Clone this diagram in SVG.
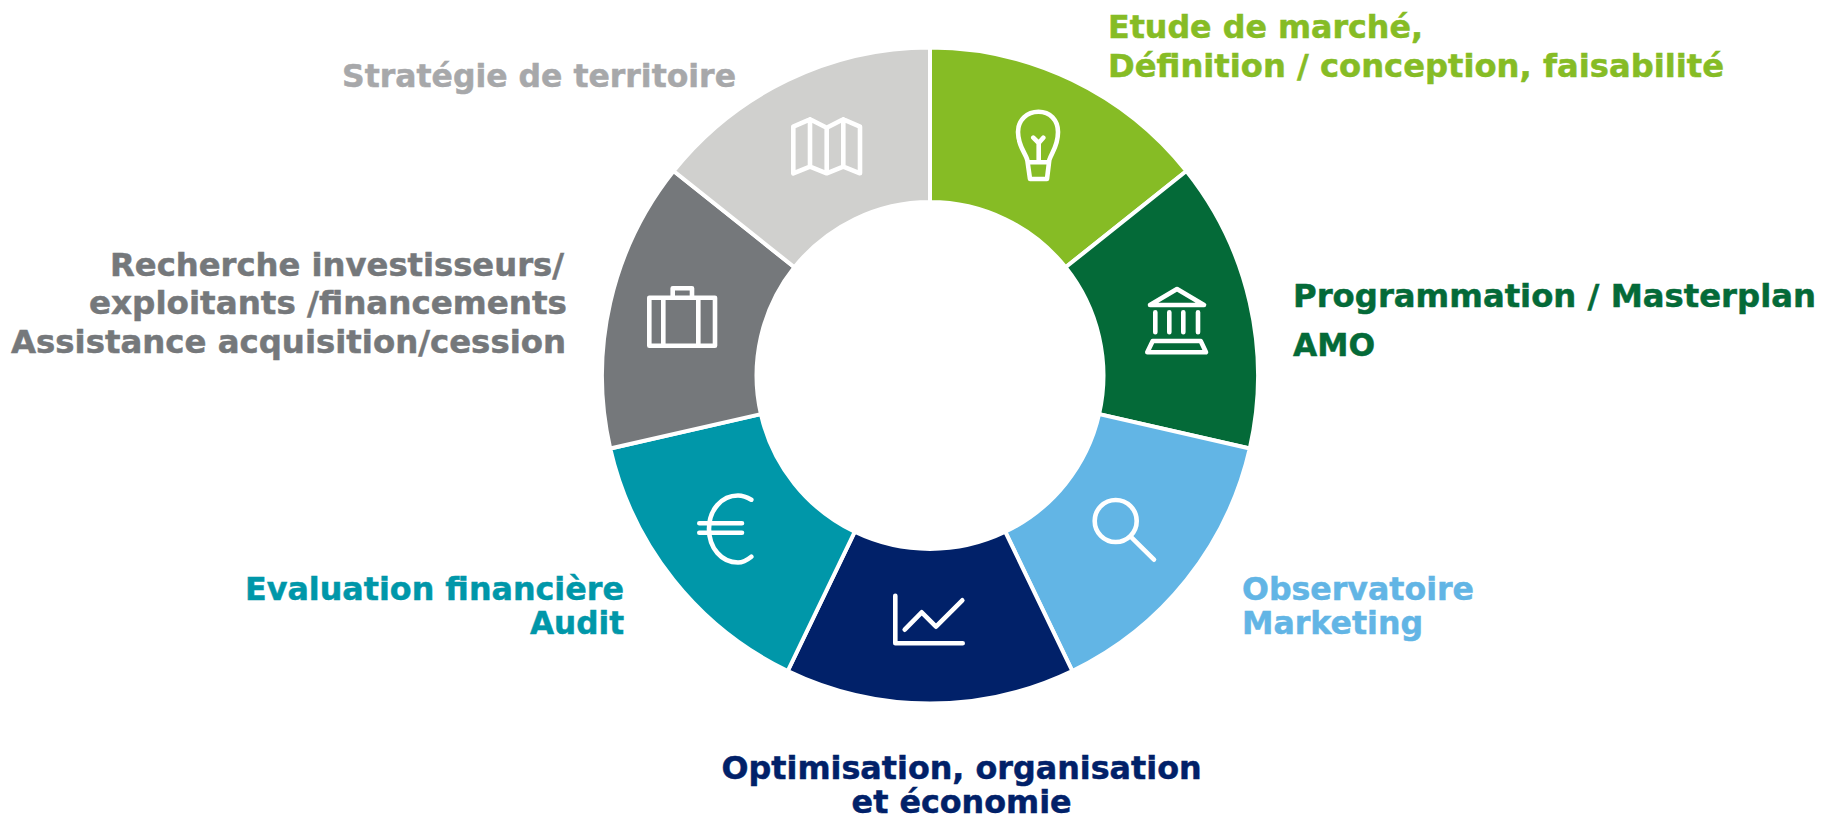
<svg xmlns="http://www.w3.org/2000/svg" width="1821" height="816" viewBox="0 0 1821 816">
<style>
.seg{stroke:#fff;stroke-width:4;stroke-linejoin:miter}
.ico{fill:none;stroke:#fff;stroke-width:4.6;stroke-linecap:round;stroke-linejoin:round}
text{font-family:"DejaVu Sans",Verdana,sans-serif;font-weight:700;font-size:32px;stroke-width:.5}
.e{text-anchor:end}.m{text-anchor:middle}
</style>
<rect width="1821" height="816" fill="#fff"/>
<g id="etude">
<path class="seg" fill="#86BC25" d="M930 47.5A328 328 0 0 1 1186.4 171L1065.6 267.3A173.5 173.5 0 0 0 930 202Z"/>
<path class="ico" transform="translate(990 100)" d="M37.3 60C35 52 28 46 28 32C28 20 37 11.7 48.5 11.7C60 11.7 68 20 68 32C68 46 62 52 59.3 60L57 79H40ZM38 62.3H59M48.7 62V42M43.3 37.7L48.7 43L53.3 37.7"/>
<text x="1108" y="38" fill="#86BC25" stroke="#86BC25" textLength="315" lengthAdjust="spacingAndGlyphs">Etude de marché,</text>
<text x="1108" y="77" fill="#86BC25" stroke="#86BC25" textLength="616" lengthAdjust="spacingAndGlyphs">Définition / conception, faisabilité</text>
</g>
<g id="programmation">
<path class="seg" fill="#046A38" d="M1186.4 171A328 328 0 0 1 1249.8 448.5L1099.1 414.1A173.5 173.5 0 0 0 1065.6 267.3Z"/>
<path class="ico" transform="translate(1130 275)" d="M47 14L74 30H20ZM25.3 37.3V57.3M39.3 37.3V57.3M53.3 37.3V57.3M68 37.3V57.3M22.7 66H70.7L76 77.3H17.3Z"/>
<text x="1293" y="307" fill="#046A38" stroke="#046A38" textLength="523" lengthAdjust="spacingAndGlyphs">Programmation / Masterplan</text>
<text x="1293" y="356" fill="#046A38" stroke="#046A38" textLength="82" lengthAdjust="spacingAndGlyphs">AMO</text>
</g>
<g id="observatoire">
<path class="seg" fill="#62B5E5" d="M1249.8 448.5A328 328 0 0 1 1072.3 671L1005.3 531.8A173.5 173.5 0 0 0 1099.1 414.1Z"/>
<g class="ico" transform="translate(1080 485)"><circle cx="35.7" cy="36" r="21"/><path d="M51.7 52.7L74 74.7"/></g>
<text x="1242" y="600" fill="#62B5E5" stroke="#62B5E5" textLength="232" lengthAdjust="spacingAndGlyphs">Observatoire</text>
<text x="1242" y="634" fill="#62B5E5" stroke="#62B5E5" textLength="181" lengthAdjust="spacingAndGlyphs">Marketing</text>
</g>
<g id="optimisation">
<path class="seg" fill="#012169" d="M1072.3 671A328 328 0 0 1 787.7 671L854.7 531.8A173.5 173.5 0 0 0 1005.3 531.8Z"/>
<path class="ico" transform="translate(880 585)" d="M15.3 10.7V58.3H82.7M24.7 44.7L41.7 27.3L56 41.7L82.3 15.3"/>
<text class="m" x="961.6" y="779" fill="#012169" stroke="#012169" textLength="480" lengthAdjust="spacingAndGlyphs">Optimisation, organisation</text>
<text class="m" x="961.6" y="813" fill="#012169" stroke="#012169" textLength="220" lengthAdjust="spacingAndGlyphs">et économie</text>
</g>
<g id="evaluation">
<path class="seg" fill="#0097A9" d="M787.7 671A328 328 0 0 1 610.2 448.5L760.9 414.1A173.5 173.5 0 0 0 854.7 531.8Z"/>
<path class="ico" transform="translate(680 485)" d="M71.3 14.7C66 11.5 62 10.5 58 10.5C41.5 10.5 29 25 29 44C29 63 41.5 77.5 58 77.5C62 77.5 66 76 71.3 71.7M19.3 38.3H62M19.3 47.7H62"/>
<text class="e" x="624" y="600" fill="#0097A9" stroke="#0097A9" textLength="379" lengthAdjust="spacingAndGlyphs">Evaluation financière</text>
<text class="e" x="624" y="634" fill="#0097A9" stroke="#0097A9" textLength="94" lengthAdjust="spacingAndGlyphs">Audit</text>
</g>
<g id="recherche">
<path class="seg" fill="#75787B" d="M610.2 448.5A328 328 0 0 1 673.6 171L794.4 267.3A173.5 173.5 0 0 0 760.9 414.1Z"/>
<path class="ico" transform="translate(630 275)" d="M19.3 22.7H85V70.7H19.3ZM33.3 22.7V70.7M68.3 22.7V70.7M42.7 21.7V13.3H62V21.7"/>
<text class="e" x="564" y="276" fill="#75787B" stroke="#75787B" textLength="454" lengthAdjust="spacingAndGlyphs">Recherche investisseurs/</text>
<text class="e" x="567" y="314" fill="#75787B" stroke="#75787B" textLength="478" lengthAdjust="spacingAndGlyphs">exploitants /financements</text>
<text class="e" x="566" y="353" fill="#75787B" stroke="#75787B" textLength="555" lengthAdjust="spacingAndGlyphs">Assistance acquisition/cession</text>
</g>
<g id="strategie">
<path class="seg" fill="#D0D0CE" d="M673.6 171A328 328 0 0 1 930 47.5V202A173.5 173.5 0 0 0 794.4 267.3Z"/>
<path class="ico" transform="translate(775 105)" d="M18.3 21.7L35 14.3L51.7 22.7L68.3 14.3L85 21.7V68.3L68.3 61.7L51.7 68.3L35 61.7L18.3 68.3ZM35 14.3V61.7M51.7 22.7V68.3M68.3 14.3V61.7"/>
<text class="e" x="736" y="87" fill="#A7A8AA" stroke="#A7A8AA" textLength="394" lengthAdjust="spacingAndGlyphs">Stratégie de territoire</text>
</g>
<g id="connectors"/>
</svg>
